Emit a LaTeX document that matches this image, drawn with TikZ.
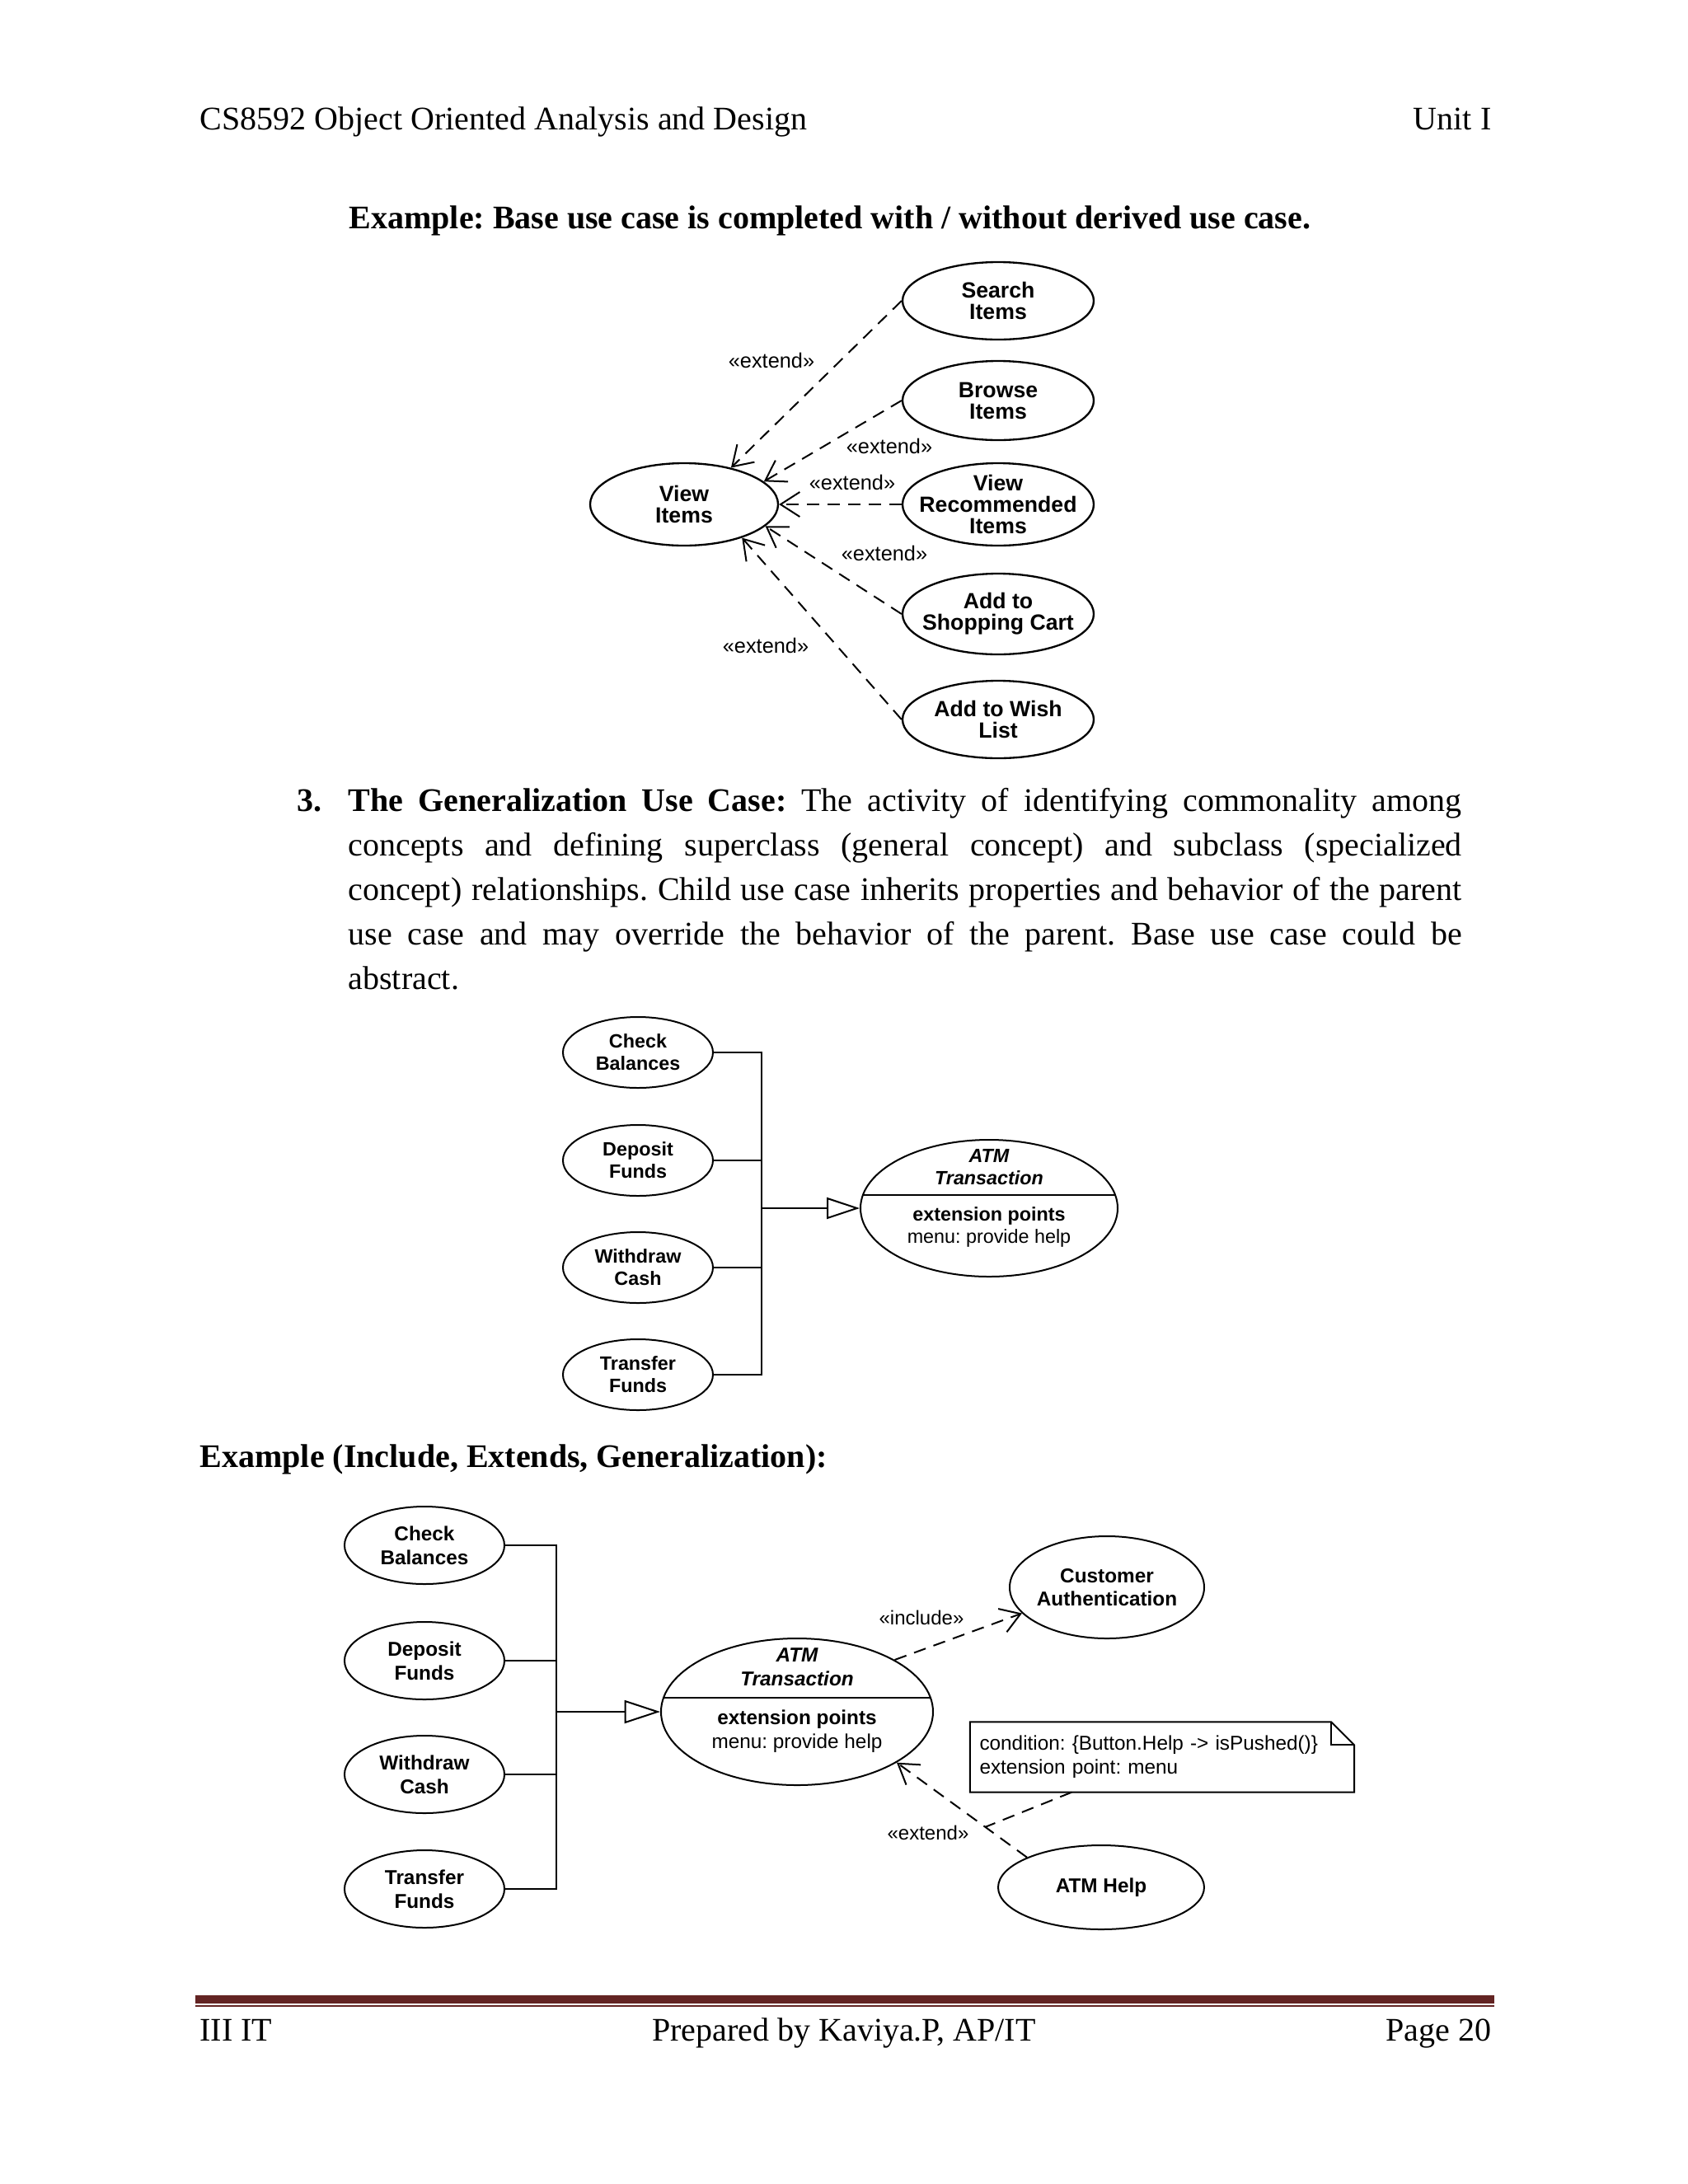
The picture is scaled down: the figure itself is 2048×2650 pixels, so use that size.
\documentclass[tikz,border=0pt]{standalone}
\usepackage{fontspec}
\setmainfont{Liberation Serif}
\setsansfont{Liberation Sans}
\usetikzlibrary{shapes.geometric,arrows.meta}
\frenchspacing
\newlength\px
\setlength\px{0.3pt}
\definecolor{footred}{HTML}{632423}
\tikzstyle{pagetext} = [inner sep=0pt, font=\fontsize{12}{16.2}\selectfont]
\tikzstyle{usecase} = [ellipse, draw=black, line width=0.7pt, inner sep=-8pt, align=center]
\tikzstyle{caseA} = [usecase, minimum width=232\px, minimum height=96\px, font=\sffamily\bfseries\fontsize{8}{7.8}\selectfont]
\tikzstyle{caseB} = [usecase, line width=0.6pt, minimum width=182\px, minimum height=86\px, font=\sffamily\bfseries\fontsize{7}{8.1}\selectfont]
\tikzstyle{caseC} = [usecase, line width=0.6pt, minimum width=194\px, minimum height=94\px, font=\sffamily\bfseries\fontsize{7.3}{8.6}\selectfont]
\tikzstyle{stereo} = [inner sep=0pt, font=\sffamily\fontsize{7.6}{8}\selectfont]
\tikzstyle{extarrow} = [line width=0.6pt, dash pattern=on 4.5pt off 3pt, -{Straight Barb[length=7pt,width=9pt]}]
\tikzstyle{genline} = [line width=0.6pt]
\newcommand{\extlbl}{«extend»}
\newcommand{\inclbl}{«include»}

\begin{document}
\begin{tikzpicture}[x=\px, y=-\px]
	\useasboundingbox (0,0) rectangle (2048,2650);
	% page head
	\node [pagetext, anchor=base west] (head) at (242,157) {CS8592 Object Oriented Analysis and Design};
	\node [pagetext, anchor=base east] (unit) at (1810,157) {Unit I};
	\node [pagetext, anchor=base west, font=\bfseries\fontsize{12}{16.2}\selectfont] (exone) at (423,277) {Example: Base use case is completed with / without derived use case.};

	% base use case with extensions
	\node [caseA, minimum width=228\px, minimum height=100\px] (view) at (830,612) {View\\Items};
	\node [caseA, minimum height=94\px] (search) at (1211,365) {Search\\Items};
	\node [caseA] (browse) at (1211,486) {Browse\\Items};
	\node [caseA, minimum height=100\px] (viewrec) at (1211,612) {View\\Recommended\\Items};
	\node [caseA, minimum height=98\px] (cart) at (1211,745) {Add to\\Shopping Cart};
	\node [caseA, minimum height=94\px] (wish) at (1211,873) {Add to Wish\\List};
	\draw [extarrow] (search.west) -- (view.38);
	\draw [extarrow] (browse.west) -- (view.16);
	\draw [extarrow] (viewrec.west) -- (view.0);
	\draw [extarrow] (cart.west) -- (view.-15);
	\draw [extarrow] (wish.west) -- (view.-30);
	\node [stereo] (lsearch) at (936,437) {\extlbl};
	\node [stereo] (lbrowse) at (1079,541) {\extlbl};
	\node [stereo] (lviewrec) at (1034,585) {\extlbl};
	\node [stereo] (lcart) at (1073,671) {\extlbl};
	\node [stereo] (lwish) at (929,783) {\extlbl};

	% generalization
	\node [pagetext, anchor=base west, font=\bfseries\fontsize{12}{16.2}\selectfont] (numthree) at (360,984) {3.};
	\node [pagetext, anchor=base west, text width=1351\px, align=justify] (para) at (422,984) {\textbf{The Generalization Use Case:} The activity of identifying commonality among\linebreak concepts and defining superclass (general concept) and subclass (specialized\linebreak concept) relationships. Child use case inherits properties and behavior of the parent\linebreak use case and may override the behavior of the parent. Base use case could be\linebreak abstract.};

	\node [caseB] (chktwo) at (774,1277) {Check\\Balances};
	\node [caseB] (deptwo) at (774,1408) {Deposit\\Funds};
	\node [caseB] (wdrtwo) at (774,1538) {Withdraw\\Cash};
	\node [caseB] (trftwo) at (774,1668) {Transfer\\Funds};
	\node [usecase, line width=0.6pt, minimum width=312\px, minimum height=166\px] (atmtwo) at (1200,1466) {};
	\node [inner sep=0pt, align=center, font=\sffamily\bfseries\itshape\fontsize{7}{8.1}\selectfont] (atmtwotop) at (1200,1416) {ATM\\Transaction};
	\node [inner sep=0pt, align=center, font=\sffamily\fontsize{7}{8.1}\selectfont] (atmtwobot) at (1200,1489) {\textbf{extension points}\\menu: provide help};
	\draw [genline] (atmtwo.174) -- (atmtwo.6);
	\coordinate (bustwo) at (924,1466);
	\draw [genline] (chktwo.east) -| (bustwo);
	\draw [genline] (trftwo.east) -| (bustwo);
	\draw [genline] (deptwo.east) -- (deptwo.east -| bustwo);
	\draw [genline] (wdrtwo.east) -- (wdrtwo.east -| bustwo);
	\draw [genline, -{Triangle[open,length=12pt,width=7.8pt]}] (bustwo) -- (atmtwo.west);

	% include, extend, generalization
	\node [pagetext, anchor=base west, font=\bfseries\fontsize{12}{16.2}\selectfont] (exthree) at (242,1780) {Example (Include, Extends, Generalization):};

	\node [caseC] (chkthree) at (515,1875) {Check\\Balances};
	\node [caseC] (depthree) at (515,2015) {Deposit\\Funds};
	\node [caseC] (wdrthree) at (515,2153) {Withdraw\\Cash};
	\node [caseC] (trfthree) at (515,2292) {Transfer\\Funds};
	\node [usecase, line width=0.6pt, minimum width=330\px, minimum height=178\px] (atmthree) at (967,2077) {};
	\node [inner sep=0pt, align=center, font=\sffamily\bfseries\itshape\fontsize{7.3}{8.6}\selectfont] (atmthreetop) at (967,2023) {ATM\\Transaction};
	\node [inner sep=0pt, align=center, font=\sffamily\fontsize{7.3}{8.6}\selectfont] (atmthreebot) at (967,2101) {\textbf{extension points}\\menu: provide help};
	\draw [genline] (atmthree.174) -- (atmthree.6);
	\coordinate (busthree) at (675,2077);
	\draw [genline] (chkthree.east) -| (busthree);
	\draw [genline] (trfthree.east) -| (busthree);
	\draw [genline] (depthree.east) -- (depthree.east -| busthree);
	\draw [genline] (wdrthree.east) -- (wdrthree.east -| busthree);
	\draw [genline, -{Triangle[open,length=13pt,width=8.4pt]}] (busthree) -- (atmthree.west);

	\node [caseC, minimum width=236\px, minimum height=124\px] (cust) at (1343,1926) {Customer\\Authentication};
	\node [caseC, minimum width=250\px, minimum height=102\px] (help) at (1336,2290) {ATM Help};
	\draw [extarrow] (atmthree.28) -- (cust.197);
	\draw [extarrow] (help.158) -- coordinate[pos=0.32] (hook) (atmthree.-27);
	\node [stereo, font=\sffamily\fontsize{7.2}{8}\selectfont] (linc) at (1118,1963) {\inclbl};
	\node [stereo, font=\sffamily\fontsize{7.2}{8}\selectfont] (lext) at (1126,2224) {\extlbl};

	\node [inner xsep=11\px, inner ysep=0pt, text width=443\px, minimum height=84\px, align=left, font=\sffamily\fontsize{7.3}{8.8}\selectfont] (note) at (1410,2132) {condition: \{Button.Help -> isPushed()\}\\extension point: menu};
	\draw [line width=0.6pt] (note.north west) -- ([xshift=-8.4pt]note.north east) -- ([yshift=-8.4pt]note.north east) -- (note.south east) -- (note.south west) -- cycle;
	\draw [line width=0.6pt] ([xshift=-8.4pt]note.north east) |- ([yshift=-8.4pt]note.north east);
	\draw [line width=0.6pt, dash pattern=on 4.5pt off 3pt] ([xshift=37pt]note.south west) -- (hook);

	% page foot
	\fill [footred] (237,2421) rectangle (1813,2431);
	\fill [footred] (237,2433) rectangle (1813,2435);
	\node [pagetext, anchor=base west] (footl) at (242,2476) {III IT};
	\node [pagetext, anchor=base] (footm) at (1024,2476) {Prepared by Kaviya.P, AP/IT};
	\node [pagetext, anchor=base east] (footr) at (1810,2476) {Page 20};
\end{tikzpicture}
\end{document}
